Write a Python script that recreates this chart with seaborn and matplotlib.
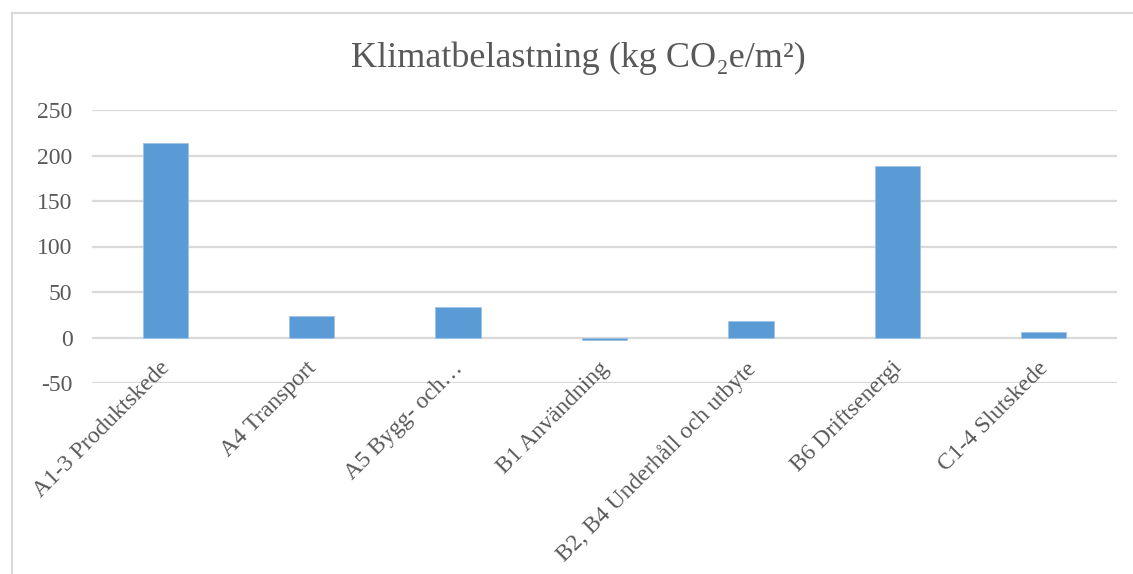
import matplotlib
matplotlib.use("Agg")
import matplotlib.pyplot as plt
from matplotlib import font_manager, ft2font
from matplotlib.lines import Line2D
from matplotlib.transforms import ScaledTranslation
import seaborn as sns
import pandas as pd

categories = [
    "A1-3 Produktskede",
    "A4 Transport",
    "A5 Bygg- och…",
    "B1 Användning",
    "B2, B4 Underhåll och utbyte",
    "B6 Driftsenergi",
    "C1-4 Slutskede",
]
values = [214, 24, 34, -3, 18, 188, 6]
y_ticks = [-50, 0, 50, 100, 150, 200, 250]
title = "Klimatbelastning (kg CO₂e/m²)"

sns.set_theme(style="white")


def has_glyph(family, ch):
    try:
        path = font_manager.findfont(family, fallback_to_default=False)
        return ft2font.FT2Font(path).get_char_index(ord(ch)) != 0
    except Exception:
        return False


# serif text; the subscript two comes from the first font that carries it
fallback = [f for f in ["Noto Sans CJK JP", "Noto Sans", "DejaVu Serif"]
            if has_glyph(f, "₂")][:1]
plt.rcParams["font.family"] = ["Liberation Serif"] + fallback + ["DejaVu Serif"]

text_color = "#595959"
grid_color = "#D9D9D9"
bar_color = "#5B9BD5"

df = pd.DataFrame({"stage": categories, "value": values})

fig = plt.figure(figsize=(11.33, 5.74), dpi=100)
ax = fig.add_axes([92 / 1133, 1 - 383 / 574, (1117 - 92) / 1133, (383 - 110) / 574])

sns.barplot(data=df, x="stage", y="value", color=bar_color, width=0.31,
            saturation=1, ax=ax, zorder=3, edgecolor="#9DC3E6", linewidth=0.6)

ax.set_ylim(-50, 250)
ax.set_xlim(-0.5, len(categories) - 0.5)
ax.set_yticks(y_ticks)
ax.set_yticklabels([str(t) for t in y_ticks])
for t in y_ticks:
    ax.axhline(t, color=grid_color, lw=1.6, zorder=1)

ax.set_xlabel("")
ax.set_ylabel("")
for s in ax.spines.values():
    s.set_visible(False)
ax.tick_params(axis="both", length=0, colors=text_color, labelsize=17)
ax.tick_params(axis="y", pad=14)
ax.tick_params(axis="x", labelbottom=False)
plt.setp(ax.get_yticklabels(), color=text_color)

# category labels hang from the zero line, rotated 45 degrees
label_offset = ax.transData + ScaledTranslation(-6 / 100, -20 / 100, fig.dpi_scale_trans)
for i, cat in enumerate(categories):
    ax.text(i, 0, cat, transform=label_offset, rotation=45, ha="right", va="top",
            rotation_mode="anchor", fontsize=17, color=text_color, clip_on=False)

fig.text(578 / 1133, 1 - 58 / 574, title, ha="center", va="center",
         fontsize=26, color=text_color)

# chart area frame (left and top edges)
fig.add_artist(Line2D([12 / 1133, 12 / 1133], [0, 1 - 13 / 574],
                      transform=fig.transFigure, color=grid_color, lw=1.5))
fig.add_artist(Line2D([12 / 1133, 1], [1 - 13 / 574, 1 - 13 / 574],
                      transform=fig.transFigure, color=grid_color, lw=1.5))

fig.savefig("out.png", dpi=100, facecolor="white")
